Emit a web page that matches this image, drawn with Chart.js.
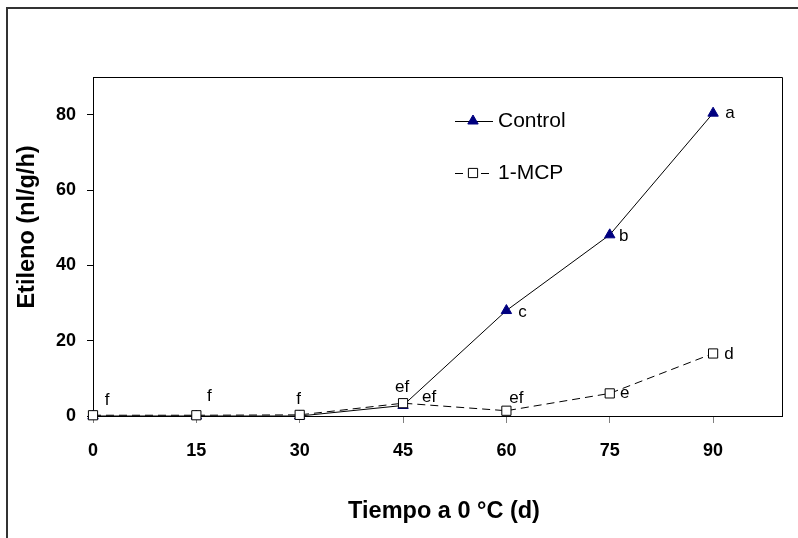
<!DOCTYPE html>
<html><head><meta charset="utf-8">
<script src="https://cdn.jsdelivr.net/npm/chart.js@4/dist/chart.umd.min.js"></script>
<style>html,body{margin:0;padding:0;background:#fff;}#wrap{position:relative;width:798px;height:538px;}</style>
</head><body><div id="wrap"><canvas id="c" width="798" height="538"></canvas></div>
<script>
const days = [0, 15, 30, 45, 60, 75, 90];
const controlValues = [0, 0, 0, 2.8, 28.0, 48.1, 80.4];
const mcpValues = [0.2, 0.2, 0.3, 3.4, 1.4, 6.0, 16.6];
const controlLetters = ['', '', '', 'ef', 'c', 'b', 'a'];
const mcpLetters = ['f', 'f', 'f', 'ef', 'ef', 'e', 'd'];
const xTickValues = [0, 15, 30, 45, 60, 75, 90];
const yTickValues = [0, 20, 40, 60, 80];
const seriesNames = ['Control', '1-MCP'];
const xTitle = 'Tiempo a 0 °C (d)';
const yTitle = 'Etileno (nl/g/h)';

const FONT = "'Liberation Sans', Arial, sans-serif";
// label offsets (px) relative to each marker
const controlOffsets = [null, null, null, [-1, -18], [16, 2], [14, 1], [17, 0]];
const mcpOffsets = [[14, -15], [13, -19], [-1, -16], [26, -6], [10, -12], [15, 0], [16, 1]];

const styles = [
  {pointStyle: 'triangle', radius: 6, fill: '#000080', stroke: '#000080', dash: []},
  {pointStyle: 'rect', radius: 6.5, fill: '#ffffff', stroke: '#000000', dash: [8, 5]}
];

const decor = {
  id: 'decor',
  beforeDraw(chart) {
    const ctx = chart.ctx;
    ctx.save();
    ctx.fillStyle = '#fff';
    ctx.fillRect(0, 0, chart.width, chart.height);
    ctx.strokeStyle = '#333';
    ctx.lineWidth = 2;
    ctx.strokeRect(7, 8, 1000, 1000);
    ctx.restore();
  },
  afterDraw(chart) {
    const ctx = chart.ctx;
    const a = chart.chartArea;
    ctx.save();
    ctx.strokeStyle = '#000';
    ctx.lineWidth = 1;
    ctx.beginPath();
    ctx.moveTo(Math.round(a.left) + 0.5, Math.round(a.top) + 0.5);
    ctx.lineTo(Math.round(a.right) + 0.5, Math.round(a.top) + 0.5);
    ctx.lineTo(Math.round(a.right) + 0.5, Math.round(a.bottom) + 0.5);
    ctx.stroke();

    // letters
    ctx.fillStyle = '#000';
    ctx.font = '17px ' + FONT;
    ctx.textAlign = 'center';
    ctx.textBaseline = 'middle';
    const sets = [[controlLetters, controlOffsets], [mcpLetters, mcpOffsets]];
    sets.forEach(([letters, offs], di) => {
      const meta = chart.getDatasetMeta(di);
      letters.forEach((t, i) => {
        if (!t || !offs[i]) return;
        const p = meta.data[i];
        ctx.fillText(t, p.x + offs[i][0], p.y + offs[i][1]);
      });
    });

    // legend
    const lx0 = 455, lx1 = 493, mx = 473, tx = 498;
    const ly = [121, 173];
    seriesNames.forEach((name, i) => {
      const s = styles[i];
      ctx.save();
      ctx.strokeStyle = '#000';
      ctx.lineWidth = 1;
      ctx.setLineDash(s.dash);
      ctx.beginPath();
      ctx.moveTo(lx0, ly[i] + 0.5);
      ctx.lineTo(lx1, ly[i] + 0.5);
      ctx.stroke();
      ctx.restore();
      ctx.fillStyle = s.fill;
      ctx.strokeStyle = s.stroke;
      ctx.lineWidth = 1;
      Chart.helpers.drawPoint(ctx, {pointStyle: s.pointStyle, radius: s.radius, borderWidth: 1, rotation: 0}, mx, ly[i]);
      ctx.fillStyle = '#000';
      ctx.font = '21px ' + FONT;
      ctx.textAlign = 'left';
      ctx.textBaseline = 'middle';
      ctx.fillText(name, tx, ly[i]);
    });

    // axis titles
    ctx.font = 'bold 23.5px ' + FONT;
    ctx.textAlign = 'center';
    ctx.textBaseline = 'middle';
    ctx.fillText(xTitle, 444, 512);
    ctx.save();
    ctx.translate(28, 227);
    ctx.rotate(-Math.PI / 2);
    ctx.fillText(yTitle, 0, 0);
    ctx.restore();
    ctx.restore();
  }
};

new Chart(document.getElementById('c'), {
  type: 'line',
  data: {
    datasets: [
      {
        label: seriesNames[0],
        data: days.map((d, i) => ({x: d, y: controlValues[i]})),
        borderColor: '#000', borderWidth: 1, tension: 0, fill: false, clip: false,
        pointStyle: styles[0].pointStyle, pointRadius: styles[0].radius,
        pointBackgroundColor: styles[0].fill, pointBorderColor: styles[0].stroke, pointBorderWidth: 1,
        order: 2
      },
      {
        label: seriesNames[1],
        data: days.map((d, i) => ({x: d, y: mcpValues[i]})),
        borderColor: '#000', borderWidth: 1, borderDash: styles[1].dash, tension: 0, fill: false, clip: false,
        pointStyle: styles[1].pointStyle, pointRadius: styles[1].radius,
        pointBackgroundColor: styles[1].fill, pointBorderColor: styles[1].stroke, pointBorderWidth: 1,
        order: 1
      }
    ]
  },
  options: {
    responsive: false,
    animation: false,
    devicePixelRatio: 1,
    layout: {padding: {left: 0, top: 77, right: 16, bottom: 0}},
    plugins: {legend: {display: false}, tooltip: {enabled: false}},
    scales: {
      x: {
        type: 'linear', min: 0, max: 100,
        afterBuildTicks: s => { s.ticks = xTickValues.map(v => ({value: v})); },
        afterFit: s => { s.height = 122; },
        grid: {drawOnChartArea: false, drawTicks: true, tickLength: 7, tickColor: '#808080'},
        border: {color: '#000', width: 1},
        ticks: {color: '#000', padding: 17, maxRotation: 0, autoSkip: false, font: {family: FONT, size: 18, weight: 'bold'}}
      },
      y: {
        type: 'linear', min: 0, max: 90,
        afterBuildTicks: s => { s.ticks = yTickValues.map(v => ({value: v})); },
        afterFit: s => { s.width = 93; },
        grid: {drawOnChartArea: false, drawTicks: true, tickLength: 6, tickColor: '#000'},
        border: {color: '#000', width: 1},
        ticks: {color: '#000', padding: 11, font: {family: FONT, size: 18, weight: 'bold'}}
      }
    }
  },
  plugins: [decor]
});
</script>
</body></html>
